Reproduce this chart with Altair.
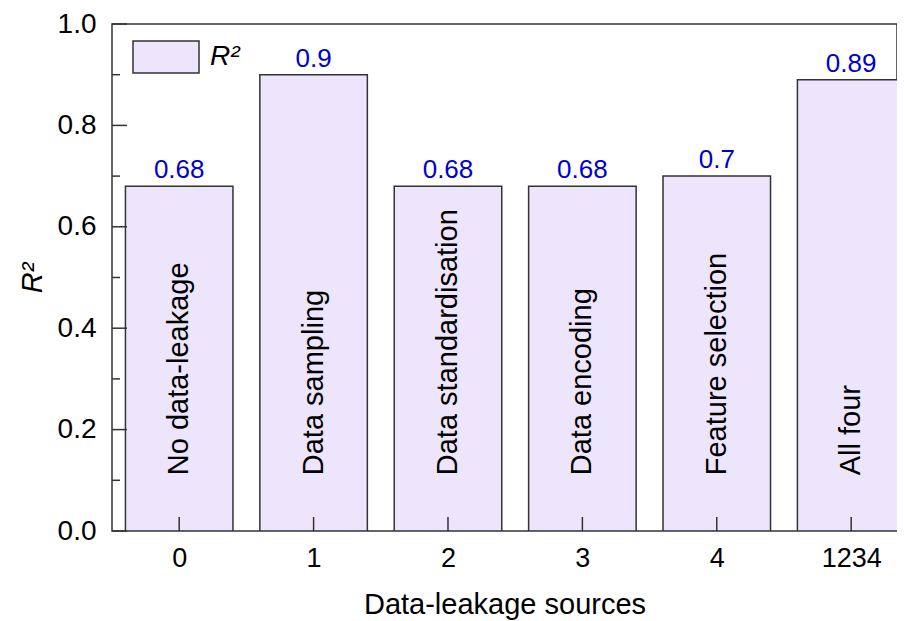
import altair as alt
import pandas as pd

positions = [0, 1, 2, 3, 4, 5]
tick_labels = ["0", "1", "2", "3", "4", "1234"]
bar_names = ["No data-leakage", "Data sampling", "Data standardisation",
             "Data encoding", "Feature selection", "All four"]
r2_values = [0.68, 0.90, 0.68, 0.68, 0.70, 0.89]
value_text = ["0.68", "0.9", "0.68", "0.68", "0.7", "0.89"]
major_y = [0.0, 0.2, 0.4, 0.6, 0.8, 1.0]
minor_y = [0.1, 0.3, 0.5, 0.7, 0.9]

FONT = "Liberation Sans"
FILL = "#ECE5FB"
STROKE = "#333333"

df = pd.DataFrame({
    "pos": positions,
    "lo": [p - 0.4 for p in positions],
    "hi": [p + 0.4 for p in positions],
    "tick": tick_labels,
    "name": bar_names,
    "r2": r2_values,
    "zero": [0.0] * len(positions),
    "txt": value_text,
    "series": ["R²"] * len(positions),
    "base": [0.11] * len(positions),
})

label_expr = "[" + ",".join(f"'{t}'" for t in tick_labels) + "][datum.value]"

xscale = alt.Scale(domain=[-0.5, 5.341], nice=False, zero=False)
yscale = alt.Scale(domain=[0, 1], nice=False)

bars = alt.Chart(df).mark_bar(stroke=STROKE, strokeWidth=1.5, clip=True).encode(
    x=alt.X("lo:Q", scale=xscale,
            axis=alt.Axis(values=positions, labelExpr=label_expr, title="Data-leakage sources",
                          ticks=False, domain=False, grid=False, labelFontSize=27,
                          labelFont=FONT, labelColor="#000", labelPadding=14,
                          titleFont=FONT, titleFontSize=29, titleFontWeight="normal",
                          titleColor="#000", titlePadding=19)),
    x2="hi:Q",
    y=alt.Y("r2:Q", scale=yscale,
            axis=alt.Axis(values=major_y, format=".1f", title="R²", ticks=False,
                          domain=False, grid=False, labelFontSize=28, labelFont=FONT,
                          labelColor="#000", labelPadding=16,
                          titleFont=FONT, titleFontSize=29, titleFontStyle="italic",
                          titleFontWeight="normal", titleColor="#000", titlePadding=10)),
    y2="zero:Q",
    fill=alt.Fill("series:N", scale=alt.Scale(range=[FILL]),
                  legend=alt.Legend(title=None, orient="none", legendX=20, legendY=-1,
                                    padding=0,
                                    symbolType="M-1,-0.485H1V0.485H-1Z", symbolSize=4356,
                                    symbolStrokeColor=STROKE, symbolStrokeWidth=1.5,
                                    symbolFillColor=FILL, symbolOpacity=1,
                                    labelFontSize=28, labelFont=FONT, labelFontStyle="italic",
                                    labelColor="#000", labelOffset=10)),
)

value_labels = alt.Chart(df).mark_text(
    baseline="bottom", dy=-3, fontSize=26, font=FONT, color="#0000CC"
).encode(x=alt.X("pos:Q", scale=xscale), y=alt.Y("r2:Q", scale=yscale), text="txt:N")

names = alt.Chart(df).mark_text(
    angle=270, align="left", baseline="middle", fontSize=29, font=FONT, color="#000"
).encode(x=alt.X("pos:Q", scale=xscale), y=alt.Y("base:Q", scale=yscale), text="name:N")

xticks = alt.Chart(df).mark_rule(color=STROKE, strokeWidth=1.5).encode(
    x=alt.X("pos:Q", scale=xscale), y=alt.value(507), y2=alt.value(493))

ymaj = alt.Chart(pd.DataFrame({"v": major_y})).mark_rule(color=STROKE, strokeWidth=1.5).encode(
    y=alt.Y("v:Q", scale=yscale), x=alt.value(0), x2=alt.value(15))
ymin = alt.Chart(pd.DataFrame({"v": minor_y})).mark_rule(color=STROKE, strokeWidth=1.5).encode(
    y=alt.Y("v:Q", scale=yscale), x=alt.value(0), x2=alt.value(8))

chart = alt.layer(bars, xticks, ymaj, ymin, value_labels, names).properties(
    width=785, height=507,
    background="white",
    autosize=alt.AutoSizeParams(type="none"),
    padding={"left": 104, "top": 16, "right": 0, "bottom": 90},
).configure_view(stroke=STROKE, strokeWidth=1.5)

chart.save("out.html", embed_options={"renderer": "svg", "actions": False})
